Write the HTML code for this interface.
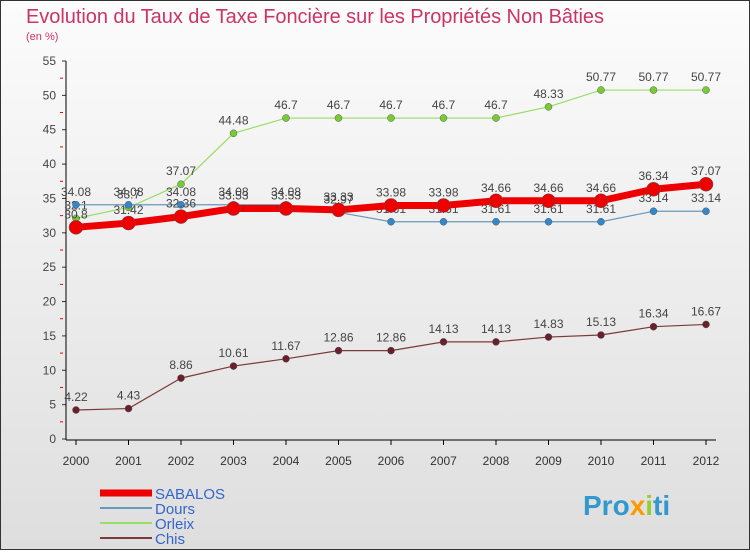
<!DOCTYPE html>
<html><head><meta charset="utf-8"><style>
body{margin:0;width:750px;height:550px;overflow:hidden;font-family:"Liberation Sans",sans-serif}
svg text{font-family:"Liberation Sans",sans-serif}
</style></head><body>
<svg id="c" width="750" height="550" xmlns="http://www.w3.org/2000/svg">
<defs><linearGradient id="bg" x1="0" y1="0" x2="0" y2="1"><stop offset="0" stop-color="#fcfcfc"/><stop offset="1" stop-color="#dedede"/></linearGradient></defs>
<rect x="0.5" y="0.5" width="749" height="549" fill="url(#bg)" stroke="#333"/>
<text x="26" y="23" font-size="20" fill="#cc3366" textLength="578">Evolution du Taux de Taxe Foncière sur les Propriétés Non Bâties</text>
<text x="26" y="40" font-size="11" fill="#cc3366">(en %)</text>
<g id="axes"></g><g id="series"></g><g id="legend"></g>
<text x="583" y="515" font-size="28" font-weight="bold" fill="#3399cc">Pro<tspan fill="#ff9900">x</tspan><tspan fill="#99cc33">i</tspan>ti</text>
</svg>
<script>
const years=[2000,2001,2002,2003,2004,2005,2006,2007,2008,2009,2010,2011,2012];
const yTicks=[0,5,10,15,20,25,30,35,40,45,50,55];
const sabalos=[30.8,31.42,32.36,33.53,33.53,33.33,33.98,33.98,34.66,34.66,34.66,36.34,37.07];
const dours=[34.08,34.08,34.08,34.08,34.08,32.97,31.61,31.61,31.61,31.61,31.61,33.14,33.14];
const orleix=[32.1,33.7,37.07,44.48,46.7,46.7,46.7,46.7,46.7,48.33,50.77,50.77,50.77];
const chis=[4.22,4.43,8.86,10.61,11.67,12.86,12.86,14.13,14.13,14.83,15.13,16.34,16.67];
const NS="http://www.w3.org/2000/svg";
const X=i=>76+i*(630/12), Y=v=>439-v*378/55;
function mk(t,a,p){const e=document.createElementNS(NS,t);for(const k in a)e.setAttribute(k,a[k]);p.appendChild(e);return e;}
const ax=document.getElementById('axes');
yTicks.forEach(v=>{const y=Y(v);
 const t=mk('text',{x:56,y:y+4,'font-size':12,fill:'#444','text-anchor':'end'},ax);t.textContent=v;
 
 
 mk('line',{x1:62,x2:66,y1:y,y2:y,stroke:'#333'},ax);
 if(v<55)mk('line',{x1:60,x2:63,y1:Y(v+2.5),y2:Y(v+2.5),stroke:'#e00'},ax);
});
const ya=mk('line',{x1:66,x2:66,y1:61,y2:440,stroke:'#000'},ax);


const xa=mk('line',{x1:66,x2:716,y1:440,y2:440,stroke:'#000'},ax);


years.forEach((yr,i)=>{
 mk('line',{x1:X(i),x2:X(i),y1:440,y2:445,stroke:'#000'},ax);
 const t=mk('text',{x:X(i),y:465,'font-size':12,fill:'#333','text-anchor':'middle'},ax);t.textContent=yr;
 
 
});
const sg=document.getElementById('series');
function draw(name,data,color,w,r,dot){
 const g=mk('g',{},sg);
 
 
 const pl=mk('polyline',{points:data.map((v,i)=>X(i)+','+Y(v)).join(' '),fill:'none',stroke:color,'stroke-width':w},g);
 
 
 data.forEach((v,i)=>{
  const c=mk('circle',{cx:X(i),cy:Y(v),r:r,fill:dot,stroke:'#555','stroke-width':0.5},g);
  
  
  const t=mk('text',{x:X(i),y:Y(v)-9,'font-size':12,fill:'#444','text-anchor':'middle'},g);t.textContent=v;
  
  
 });
}
draw('chis',chis,'#7a3a3a',1.2,3.5,'#6b1f2a');
draw('orleix',orleix,'#99dd66',1.2,3.5,'#77cc33');
draw('dours',dours,'#6699bb',1.2,3.5,'#3388cc');
draw('sabalos',sabalos,'#ee0000',7,7,'#ee0000');
const lg=document.getElementById('legend');
[['SABALOS','#ee0000',7],['Dours','#6699bb',2],['Orleix','#99dd66',2],['Chis','#7a3a3a',2]].forEach((d,i)=>{
 const y=493+i*15;
 const g=mk('g',{},lg);
 
 
 mk('line',{x1:100,x2:152,y1:y,y2:y,stroke:d[1],'stroke-width':d[2]},g);
 const t=mk('text',{x:155,y:y+6,'font-size':15,fill:'#3366cc'},g);t.textContent=d[0];
});
</script>
</body></html>
